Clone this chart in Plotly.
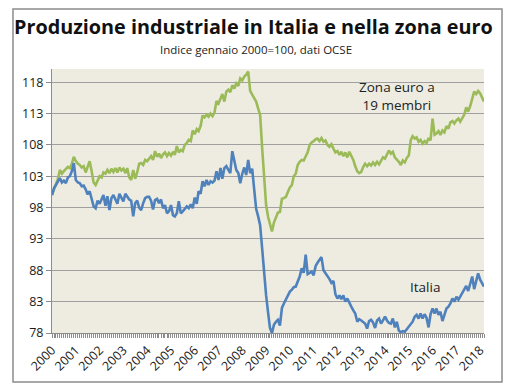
import pandas as pd
import plotly.graph_objects as go

# Monthly index values, January 2000 = 100, Jan 2000 .. Mar 2018
months = pd.date_range("2000-01-01", periods=219, freq="MS")

euro = [
    100.0, 100.8, 101.5, 102.6, 104.0, 103.4, 103.8, 104.2, 104.5, 104.3, 105.0, 106.1,  # 2000
    105.4, 105.0, 104.8, 104.4, 104.6, 103.6, 104.5, 105.4, 103.8, 102.0, 101.6, 102.4,  # 2001
    103.0, 102.8, 103.6, 103.4, 104.0, 103.5, 104.2, 103.7, 104.3, 103.6, 104.4, 103.9,  # 2002
    104.2, 103.5, 104.3, 102.8, 102.4, 104.0, 102.6, 103.6, 105.0, 105.1, 104.8, 105.6,  # 2003
    105.4, 105.8, 106.2, 105.6, 107.0, 106.1, 106.6, 105.9, 106.5, 106.8, 106.2, 106.7,  # 2004
    106.3, 106.9, 106.4, 107.8, 106.8, 107.2, 107.0, 108.0, 108.3, 108.8, 108.6, 110.3,  # 2005
    109.7, 110.5, 110.2, 111.0, 112.7, 112.4, 112.8, 112.5, 113.0, 112.6, 113.2, 115.0,  # 2006
    114.6, 115.4, 116.1, 114.9, 116.5, 116.8, 116.4, 117.5, 117.0, 117.8, 117.4, 118.6,  # 2007
    118.3, 118.9, 119.2, 119.7, 116.6, 116.0, 115.4, 114.9, 113.8, 112.8, 107.5, 102.0,  # 2008
    98.4, 96.5, 95.3, 94.2, 95.6, 96.5, 97.2, 97.3, 99.4, 99.5, 99.7, 100.5,  # 2009
    101.2, 101.6, 103.0, 103.4, 104.8, 105.3, 105.6, 105.5, 106.2, 106.8, 108.0, 108.4,  # 2010
    108.6, 108.9, 109.0, 108.6, 109.1, 108.5, 108.7, 108.0, 107.7, 108.1, 107.4, 106.8,  # 2011
    107.0, 106.4, 106.9, 106.2, 106.8, 106.0, 106.9, 106.3, 105.6, 104.6, 103.8, 103.5,  # 2012
    103.7, 104.5, 105.0, 104.6, 105.0, 104.7, 105.2, 104.8, 105.3, 104.9, 105.6, 106.0,  # 2013
    105.8, 106.4, 107.1, 106.6, 106.9, 106.0, 105.7, 105.3, 104.8, 105.5, 105.2, 105.9,  # 2014
    106.3, 108.8, 109.4, 109.0, 109.2, 108.5, 108.8, 108.2, 108.6, 108.3, 109.1, 108.7,  # 2015
    112.2, 109.6, 109.8, 110.2, 109.6, 110.3, 110.0, 111.0, 110.6, 111.6, 111.8, 111.4,  # 2016
    111.9, 112.2, 111.7, 112.4, 112.8, 114.0, 113.3, 114.2, 115.3, 116.5, 116.1, 116.6,  # 2017
    116.2, 115.6, 114.9,  # 2018
]

italia = [
    100.0, 101.1, 101.6, 102.2, 102.7, 102.0, 102.3, 101.9, 102.8, 103.0, 103.8, 105.1,  # 2000
    102.4, 102.0, 101.9, 101.4, 101.5, 100.9, 100.1, 100.6, 99.5, 98.2, 97.9, 99.1,  # 2001
    98.6, 99.3, 100.0, 98.3, 99.8, 97.6, 99.5, 100.0, 99.3, 98.6, 100.2, 99.7,  # 2002
    99.0, 100.2, 99.7, 99.3, 99.1, 96.6, 98.7, 99.1, 98.0, 97.6, 98.7, 99.5,  # 2003
    99.7, 99.7, 99.1, 97.7, 99.2, 99.4, 98.7, 99.3, 97.9, 98.4, 97.1, 97.4,  # 2004
    98.4, 96.8, 96.6, 97.1, 99.0, 97.1, 97.4, 97.9, 98.2, 97.9, 98.5, 97.9,  # 2005
    99.6, 98.6, 100.6, 100.2, 102.2, 101.4, 102.4, 101.6, 102.2, 102.0, 102.3, 103.8,  # 2006
    102.4, 104.3, 102.6, 104.3, 104.6, 104.0, 103.5, 107.0, 105.2, 104.0, 103.5, 101.9,  # 2007
    103.4, 104.4, 103.2, 105.6, 103.5, 104.2, 101.0, 97.8, 96.6, 95.2, 91.5, 87.0,  # 2008
    84.0, 81.2, 78.8, 78.0, 79.3, 79.8, 80.1, 79.2, 82.0, 82.7, 83.3, 84.0,  # 2009
    84.6, 84.9, 85.3, 85.4, 86.2, 87.0, 88.3, 87.6, 90.5, 87.4, 87.6, 87.8,  # 2010
    87.2, 88.7, 89.2, 89.6, 90.1, 88.0, 87.6, 87.2, 86.6, 86.0, 86.3, 84.2,  # 2011
    83.5, 84.0, 83.4, 84.0, 83.0, 83.5, 82.7, 82.2, 81.6, 81.1, 79.8, 80.2,  # 2012
    80.0, 79.8, 79.5, 78.7, 79.9, 80.1, 79.7, 78.8, 80.0, 80.3, 79.5, 80.0,  # 2013
    80.6, 80.0, 79.6, 79.5, 80.3, 78.9, 79.8, 78.4, 78.1, 78.3, 78.2, 78.6,  # 2014
    79.0, 79.3, 79.8, 80.6, 80.9, 80.3, 81.1, 80.3, 81.0, 80.4, 78.9, 81.0,  # 2015
    81.9, 81.1, 81.9, 80.9, 81.4, 79.9, 81.1, 81.9, 82.2, 82.7, 83.5, 83.0,  # 2016
    83.8, 83.3, 83.8, 84.3, 84.9, 85.5, 84.7, 86.0, 87.0, 85.0, 86.3, 87.5,  # 2017
    86.5, 85.9, 85.4,  # 2018
]

year_ticks = [f"{y}-01-01" for y in range(2000, 2019)]
year_labels = [str(y) for y in range(2000, 2019)]
y_ticks = [78, 83, 88, 93, 98, 103, 108, 113, 118]

FONT = "Open Sans"
GREEN = "#9bbb59"
BLUE = "#4f81bd"

fig = go.Figure()
fig.add_trace(go.Scatter(x=months, y=euro, mode="lines", name="Zona euro a 19 membri",
                         line=dict(color=GREEN, width=2.6)))
fig.add_trace(go.Scatter(x=months, y=italia, mode="lines", name="Italia",
                         line=dict(color=BLUE, width=2.6)))

fig.update_layout(
    width=517, height=392,
    margin=dict(l=52, r=33, t=69, b=59),
    paper_bgcolor="white",
    plot_bgcolor="#eeece1",
    showlegend=False,
    font=dict(family=FONT, size=12, color="#222"),
)

fig.update_xaxes(
    type="date",
    range=[months[0], months[-1]],
    tickvals=year_ticks, ticktext=year_labels,
    tickangle=-45,
    tickfont=dict(size=12.5, family=FONT, color="#1a1a1a"),
    showgrid=False, zeroline=False,
    showline=True, linecolor="#8c8c8c", linewidth=1,
    ticks="outside", ticklen=4, tickcolor="#8c8c8c",
    minor=dict(dtick="M1", ticks="outside", ticklen=4, tickcolor="#8c8c8c", showgrid=False),
)
fig.update_yaxes(
    range=[78, 120.1],
    tickvals=y_ticks,
    tickfont=dict(size=12.5, family=FONT, color="#1a1a1a"),
    showgrid=True, gridcolor="#a0a0a0", gridwidth=1,
    zeroline=False,
    showline=True, linecolor="#8c8c8c", linewidth=1,
    ticks="outside", ticklen=5, tickcolor="#8c8c8c",
)

# Outer chart border
fig.add_shape(type="rect", xref="paper", yref="paper",
              x0=-0.0903, x1=1.0417, y0=-0.1856, y1=1.227,
              line=dict(color="#8c8c8c", width=1.5), fillcolor="rgba(0,0,0,0)", layer="below")

fig.add_annotation(xref="paper", yref="paper", x=0.466, y=1.16,
                   text="<b>Produzione industriale in Italia e nella zona euro</b>",
                   showarrow=False, font=dict(size=19.8, family=FONT, color="#111"),
                   xanchor="center", yanchor="middle")
fig.add_annotation(xref="paper", yref="paper", x=0.472, y=1.072,
                   text="Indice gennaio 2000=100, dati OCSE",
                   showarrow=False, font=dict(size=11.5, family=FONT, color="#222"),
                   xanchor="center", yanchor="middle")
fig.add_annotation(x="2014-07-01", y=115.8, text="Zona euro a<br>19 membri",
                   showarrow=False, font=dict(size=13.5, family=FONT, color="#222"),
                   xanchor="center", yanchor="middle")
fig.add_annotation(x="2015-09-01", y=85.35, text="Italia",
                   showarrow=False, font=dict(size=13.5, family=FONT, color="#222"),
                   xanchor="center", yanchor="middle")

fig.write_html("out.html", config={"displayModeBar": False},
               post_script="document.body.style.margin='0';")
